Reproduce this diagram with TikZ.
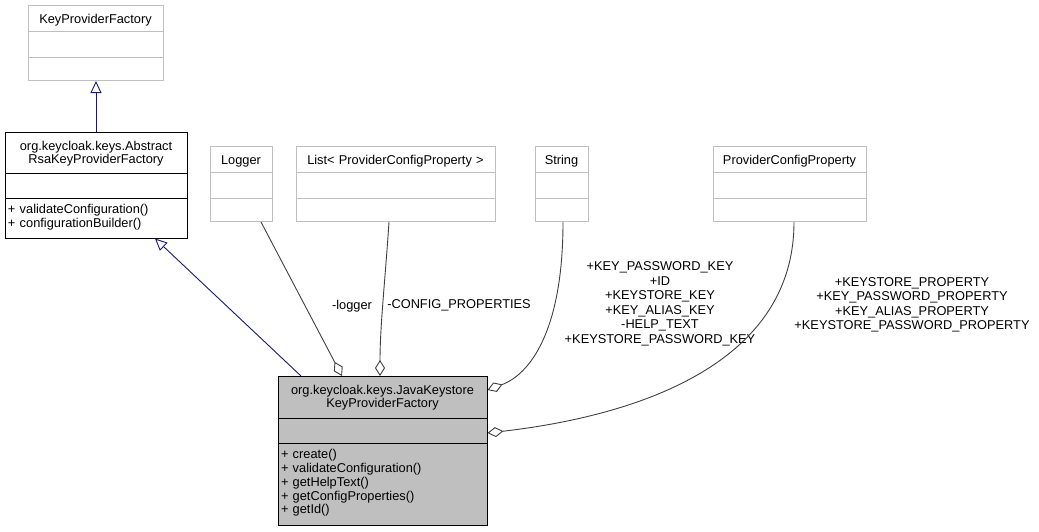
\documentclass[tikz,border=0pt]{standalone}
\usepackage{fontspec}
\setmainfont{Liberation Sans}
\usepackage{xcolor}
\usepackage{tikz}
\usetikzlibrary{shapes.multipart,arrows.meta}

\definecolor{inhline}{RGB}{25,25,112}
\definecolor{useline}{RGB}{64,64,64}
\definecolor{extborder}{RGB}{191,191,191}
\definecolor{curfill}{RGB}{191,191,191}

% struts that fix the height of a compartment
\newcommand{\partup}[1]{\rule{0pt}{#1}}
\newcommand{\partdown}[1]{\rule[-#1]{0pt}{#1}}

\begin{document}
\begin{tikzpicture}[
                x=1pt, y=-1pt,
                every node/.style={font=\fontsize{12.8}{13.75}\selectfont},
                class node/.style={rectangle split, rectangle split parts=3, draw, line width=1pt,
                    inner xsep=3pt, inner ysep=0pt, anchor=north},
                ext node/.style={class node, draw=extborder},
                inherit/.style={-{Triangle[open,length=12pt,width=11pt]}, draw=inhline, line width=0.9pt},
                usage/.style={-{Diamond[open,length=16pt,width=10pt]}, draw=useline, line width=0.9pt},
                lbl/.style={align=center, font=\fontsize{12.8}{14.5}\selectfont}
            ]
            \useasboundingbox (0,0) rectangle (1039,531);

            % Nodes
            \node[ext node, text width=129pt] (kpf) at (95.5,5)
                {\centering\partup{17pt}KeyProviderFactory\partdown{8pt}\par
                 \nodepart{two}\partup{25pt}
                 \nodepart{three}\partup{22pt}};
            \node[class node, text width=176pt] (abstract) at (96,132)
                {\centering\partup{17pt}org.keycloak.keys.Abstract\\RsaKeyProviderFactory\partdown{9pt}\par
                 \nodepart{two}\partup{24pt}
                 \nodepart{three}\raggedright\partup{15pt}+ validateConfiguration()\\+ configurationBuilder()\partdown{10pt}\par};
            \node[ext node, text width=56pt] (logger) at (241,146)
                {\centering\partup{17pt}Logger\partdown{8pt}\par
                 \nodepart{two}\partup{25pt}
                 \nodepart{three}\partup{22pt}};
            \node[ext node, text width=193pt] (cfglist) at (395.5,146)
                {\centering\partup{17pt}List< ProviderConfigProperty >\partdown{8pt}\par
                 \nodepart{two}\partup{25pt}
                 \nodepart{three}\partup{22pt}};
            \node[ext node, text width=47pt] (string) at (561.5,146)
                {\centering\partup{17pt}String\partdown{8pt}\par
                 \nodepart{two}\partup{25pt}
                 \nodepart{three}\partup{22pt}};
            \node[ext node, text width=147pt] (pcp) at (789.5,146)
                {\centering\partup{17pt}ProviderConfigProperty\partdown{8pt}\par
                 \nodepart{two}\partup{25pt}
                 \nodepart{three}\partup{22pt}};
            \node[class node, fill=curfill, text width=203pt] (java) at (382.5,376)
                {\centering\partup{17pt}org.keycloak.keys.JavaKeystore\\KeyProviderFactory\partdown{10pt}\par
                 \nodepart{two}\partup{24pt}
                 \nodepart{three}\raggedright\partup{15pt}+ create()\\+ validateConfiguration()\\+ getHelpText()\\+ getConfigProperties()\\+ getId()\partdown{11pt}\par};

            % Labels
            \node[lbl] (lblLogger) at (352,306) {-logger};
            \node[lbl] (lblConfig) at (459,305) {-CONFIG\_PROPERTIES};
            \node[lbl] (lblString) at (660,304) {+KEY\_PASSWORD\_KEY\\+ID\\+KEYSTORE\_KEY\\+KEY\_ALIAS\_KEY\\-HELP\_TEXT\\+KEYSTORE\_PASSWORD\_KEY};
            \node[lbl] (lblPcp) at (912,305) {+KEYSTORE\_PROPERTY\\+KEY\_PASSWORD\_PROPERTY\\+KEY\_ALIAS\_PROPERTY\\+KEYSTORE\_PASSWORD\_PROPERTY};

            % Edges
            \draw[inherit] (abstract.north) -- (abstract.north |- kpf.south);
            \draw[inherit] ([xshift=-81.5pt]java.north) -- ([xshift=59pt]abstract.south);
            \draw[usage] ([xshift=20pt]logger.south) -- ([xshift=-40.5pt]java.north);
            \draw[usage] ([xshift=-6.5pt]cfglist.south) .. controls +(-4,60) and +(0,-50) .. ([xshift=-2.5pt]java.north);
            \draw[usage] ([xshift=1.5pt]string.south) .. controls +(0,108) and +(43,-16) .. ([yshift=-14pt]java.north east);
            \draw[usage] ([xshift=4.5pt]pcp.south) .. controls +(0,158) and +(113,-13) .. ([yshift=-57pt]java.north east);

            \end{tikzpicture}
\end{document}
